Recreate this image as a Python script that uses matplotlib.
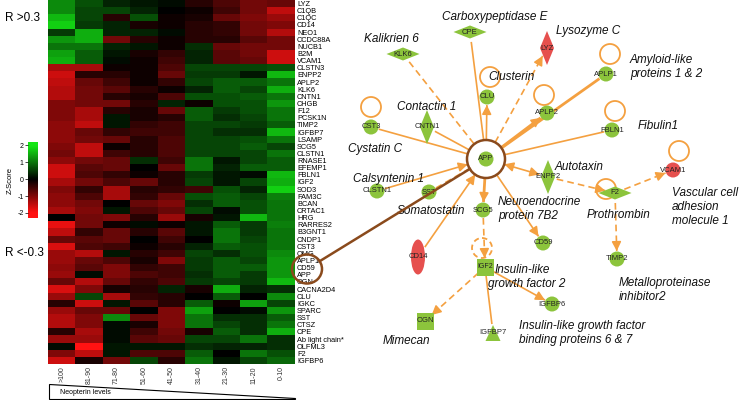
import matplotlib
matplotlib.use('Agg')
import numpy as np
import matplotlib.pyplot as plt
from matplotlib.colors import LinearSegmentedColormap
from matplotlib.patches import Circle, Ellipse, Polygon, Rectangle

plt.rcParams['font.family'] = ['Liberation Sans', 'DejaVu Sans']

# ---- heatmap data ----
genes = ['LYZ', 'C1QB', 'C1QC', 'CD14', 'NEO1', 'CCDC88A', 'NUCB1', 'B2M', 'VCAM1',
         'CLSTN3', 'ENPP2', 'APLP2', 'KLK6', 'CNTN1', 'CHGB', 'F12', 'PCSK1N', 'TIMP2',
         'IGFBP7', 'LSAMP', 'SCG5', 'CLSTN1', 'RNASE1', 'EFEMP1', 'FBLN1', 'IGF2', 'SOD3',
         'FAM3C', 'BCAN', 'CRTAC1', 'HRG', 'RARRES2', 'B3GNT1', 'CNDP1', 'CST3', 'OMG',
         'APLP1', 'CD59', 'APP', 'OGN', 'CACNA2D4', 'CLU', 'IGKC', 'SPARC', 'SST', 'CTSZ',
         'CPE', 'Ab light chain*', 'OLFML3', 'F2', 'IGFBP6']

groups = ['>100', '81-90', '71-80', '51-60', '41-50', '31-40', '21-30', '11-20', '0-10']

zscores = [
    [1.2, 0.7, 0.3, 0.2, 0.1, -0.3, -0.6, -0.9, -0.8],
    [1.2, 0.6, 0.6, 0.3, 0.0, -0.1, -0.5, -0.9, -1.5],
    [1.6, 0.6, -0.3, 0.7, -0.1, -0.2, -0.8, -1.0, -1.2],
    [1.8, 0.5, 0.3, -0.2, -0.1, -0.3, -0.4, -0.9, -1.0],
    [0.5, 1.5, 0.3, 0.3, 0.1, -0.3, -0.4, -0.9, -1.4],
    [1.3, 1.5, -0.9, -0.3, -0.1, -0.3, -0.3, -0.7, -0.9],
    [1.0, 1.0, 0.3, 0.2, -0.1, 0.4, -0.8, -0.9, -0.9],
    [1.4, 0.8, 0.2, -0.2, -0.4, 0.3, -0.7, -0.9, -1.6],
    [1.5, 0.8, 0.1, -0.1, -0.5, 0.3, -0.7, -0.8, -1.6],
    [-1.3, -1.3, -0.1, -0.1, -0.6, 0.6, 0.6, 0.6, 0.7],
    [-1.6, -0.3, -0.3, -0.1, -0.8, 0.5, 0.5, 0.2, 1.6],
    [-1.5, -0.8, -0.5, -0.1, -0.4, 0.6, 0.8, 0.8, 1.0],
    [-1.4, -0.9, -0.7, -0.3, -0.1, 0.3, 0.8, 0.6, 1.5],
    [-1.4, -0.9, -0.3, -0.2, -0.6, 0.7, 0.7, 0.8, 1.0],
    [-1.0, -0.9, -0.9, -0.3, 0.3, -0.1, 0.7, 0.7, 1.3],
    [-1.0, -1.3, -0.3, -0.2, -0.8, 0.8, 0.5, 0.7, 1.0],
    [-1.0, -1.3, 0.2, -0.2, -0.3, 0.8, 0.4, 0.6, 1.0],
    [-1.1, -1.5, 0.2, -0.4, -0.5, 0.6, 0.6, 0.5, 0.8],
    [-1.1, -0.8, -0.4, -0.5, -0.5, 0.6, 0.4, 0.4, 1.6],
    [-1.1, -0.9, -0.8, -0.3, -0.6, 0.6, 0.6, 0.7, 1.0],
    [-1.0, -1.5, -0.1, -0.3, -0.6, 0.6, 0.6, 0.8, 0.6],
    [-0.9, -1.5, -0.5, -0.3, -0.6, 0.6, 0.6, 0.6, 1.0],
    [-1.1, -0.9, -0.8, 0.4, -0.5, 1.0, 0.2, 0.6, 0.8],
    [-1.6, -0.7, -0.8, 0.0, -0.8, 1.0, 0.3, 0.8, 0.8],
    [-1.6, -0.6, -0.4, -0.1, -0.3, 0.5, 0.2, 0.1, 1.6],
    [-1.3, -0.9, -0.6, -0.8, -0.3, 0.6, 0.2, 0.6, 1.5],
    [-1.0, -0.4, -1.3, -0.3, -0.4, -0.5, 0.7, 0.3, 1.8],
    [-1.1, -0.6, -1.3, -0.4, -0.8, 0.7, 0.8, 0.6, 1.1],
    [-1.1, -0.9, 0.0, -0.8, -1.0, 0.4, 0.8, 0.7, 1.0],
    [-1.3, -1.0, 0.2, -0.6, -0.8, 0.6, 0.1, 0.7, 1.0],
    [0.0, -0.9, -1.0, -0.3, -1.2, -0.2, 0.2, 1.6, 1.0],
    [-1.8, -0.9, -0.1, 0.1, -0.1, 0.2, 0.8, 0.5, 1.1],
    [-1.5, -0.4, -0.8, -0.3, -0.7, 0.2, 1.0, 0.5, 1.0],
    [-0.8, -0.7, -0.8, 0.0, -0.5, 0.0, 1.0, 0.6, 1.0],
    [-1.7, -0.6, -0.5, -0.1, -0.3, 0.3, 0.8, 0.7, 1.0],
    [-1.2, -1.4, 0.2, -0.3, -0.5, 0.6, 0.4, 0.7, 1.2],
    [-1.2, -0.8, -0.6, -0.2, -1.0, 0.5, 0.8, 0.6, 1.3],
    [-1.1, -0.7, -1.0, -0.4, -0.5, 0.5, 0.8, 0.8, 1.3],
    [-1.2, 0.1, -1.0, -0.6, -0.5, 0.4, 0.8, 0.5, 1.3],
    [-0.8, -1.4, -0.8, -0.4, -0.6, 0.5, 0.6, 0.5, 1.6],
    [-1.7, -1.0, -0.2, -0.3, 0.3, -0.2, 1.5, 0.3, 0.4],
    [-1.2, 0.6, -1.3, -0.4, -0.3, 0.0, 0.8, 0.0, 1.2],
    [-0.3, -1.6, 0.2, -0.7, -0.3, 0.8, -0.1, 1.4, 0.6],
    [-1.2, -0.8, -0.8, 0.0, -1.0, 1.4, 0.0, 0.1, 1.3],
    [-1.4, -1.0, 1.2, -0.8, -1.0, 1.0, 0.4, 0.4, 0.8],
    [-1.4, -1.0, 0.1, -0.2, -1.0, 1.0, 0.6, 0.4, 1.0],
    [-0.3, -1.3, 0.1, -0.5, -0.9, -0.2, 0.8, 0.4, 1.5],
    [-1.2, -1.2, 0.1, -0.7, -0.8, 0.6, 0.6, 1.0, 0.4],
    [0.1, -2.0, 0.2, 0.2, 0.2, 0.4, 0.3, 0.3, 0.4],
    [-1.0, -1.5, 0.2, -0.6, -0.6, 0.8, 0.0, 1.0, 0.7],
    [-1.6, -0.2, -0.9, 0.6, -0.3, 1.0, 0.2, 0.6, 0.9],
]

# ---- network data ----
node_names = ['APP', 'CPE', 'KLK6', 'LYZ', 'CLU', 'APLP1', 'APLP2', 'FBLN1', 'CNTN1',
              'CST3', 'ENPP2', 'F2', 'VCAM1', 'CLSTN1', 'SST', 'SCG5', 'CD59', 'CD14',
              'IGF2', 'IGFBP6', 'OGN', 'IGFBP7', 'TIMP2']
node_shape = ['circle', 'hdiamond', 'hdiamond', 'vdiamond', 'circle', 'circle', 'circle',
              'circle', 'vdiamond', 'circle', 'vdiamond', 'hdiamond', 'circle', 'circle',
              'circle', 'circle', 'circle', 'ellipse', 'square', 'circle', 'square',
              'triangle', 'circle']
red_nodes = ['LYZ', 'VCAM1', 'CD14']
self_loops = ['CLU', 'APLP1', 'APLP2', 'FBLN1', 'VCAM1', 'CST3', 'F2']
dashed_loops = ['IGF2']

# (source, target, dashed, arrow at target, arrow at source)
edges = [
    ('CPE', 'APP', False, False, False),
    ('KLK6', 'APP', True, False, False),
    ('APP', 'LYZ', True, True, False),
    ('APP', 'CLU', False, True, False),
    ('APP', 'APLP2', False, True, False),
    ('APP', 'APLP1', False, False, False),
    ('FBLN1', 'APP', False, False, False),
    ('CNTN1', 'APP', False, False, False),
    ('CST3', 'APP', False, False, False),
    ('APP', 'ENPP2', False, True, True),
    ('ENPP2', 'F2', True, True, False),
    ('F2', 'VCAM1', True, True, False),
    ('F2', 'TIMP2', True, True, False),
    ('CLSTN1', 'APP', False, True, False),
    ('SST', 'APP', True, False, False),
    ('APP', 'SCG5', False, True, False),
    ('APP', 'CD59', False, True, False),
    ('CD14', 'APP', False, True, False),
    ('SCG5', 'IGF2', True, True, False),
    ('IGF2', 'IGFBP6', False, True, False),
    ('IGF2', 'OGN', True, True, False),
    ('IGF2', 'IGFBP7', False, False, False),
]

names_text = [
    ('Carboxypeptidase E', 442, 17), ('Lysozyme C', 556, 31), ('Kalikrien 6', 364, 39),
    ('Clusterin', 488, 77), ('Amyloid-like', 630, 60), ('proteins 1 & 2', 630, 74),
    ('Contactin 1', 397, 107), ('Fibulin1', 638, 126), ('Cystatin C', 348, 149),
    ('Autotaxin', 555, 167), ('Calsyntenin 1', 353, 179), ('Vascular cell', 672, 193),
    ('adhesion', 672, 207), ('molecule 1', 672, 221), ('Neuroendocrine', 498, 202),
    ('protein 7B2', 498, 216), ('Somatostatin', 397, 211), ('Prothrombin', 587, 215),
    ('Insulin-like', 495, 270), ('growth factor 2', 488, 284),
    ('Metalloproteinase', 619, 283), ('inhibitor2', 619, 297),
    ('Insulin-like growth factor', 519, 326), ('binding proteins 6 & 7', 519, 340),
    ('Mimecan', 383, 341),
]

# layout in pixels (x right, y down)
layout = {'APP': (486, 159), 'CPE': (470, 32), 'KLK6': (403, 54), 'LYZ': (547, 48),
          'CLU': (487, 97), 'APLP1': (606, 74), 'APLP2': (547, 113), 'FBLN1': (612, 130),
          'CNTN1': (427, 127), 'CST3': (371, 127), 'ENPP2': (548, 177), 'F2': (615, 193),
          'VCAM1': (673, 170), 'CLSTN1': (377, 191), 'SST': (429, 192), 'SCG5': (483, 210),
          'CD59': (543, 243), 'CD14': (418, 257), 'IGF2': (485, 267), 'IGFBP6': (552, 304),
          'OGN': (425, 321), 'IGFBP7': (493, 333), 'TIMP2': (617, 259)}
loop_centre = {'CLU': (490, 77), 'APLP1': (610, 54), 'APLP2': (544, 95), 'FBLN1': (615, 111),
               'VCAM1': (679, 151), 'CST3': (371, 107), 'F2': (606, 189), 'IGF2': (482, 248)}

W, H = 739, 400
ORANGE = '#f4a040'
GREEN = '#8cc43c'
RED = '#e6504e'
BROWN = '#8a4a1c'

fig = plt.figure(figsize=(W / 100, H / 100), dpi=100)

# heatmap
cmap = LinearSegmentedColormap.from_list('rg', ['#ff1212', '#000000', '#14e614'])
ax = fig.add_axes([48 / W, 1 - 364 / H, 247 / W, 364 / H])
ax.imshow(np.array(zscores), cmap=cmap, vmin=-2, vmax=2, aspect='auto', interpolation='nearest')
ax.set_yticks(range(len(genes)))
ax.set_yticklabels(genes, fontsize=5.3)
ax.yaxis.tick_right()
ax.set_xticks(range(len(groups)))
ax.set_xticklabels(groups, rotation=90, fontsize=5, color='#333333')
ax.tick_params(length=0, pad=1.5)
for s in ax.spines.values():
    s.set_visible(False)

# colour scale
cax = fig.add_axes([28 / W, 1 - 218 / H, 10 / W, 76 / H])
grad = np.linspace(2.2, -2.3, 100).reshape(-1, 1)
cax.imshow(grad, cmap=cmap, vmin=-2, vmax=2, aspect='auto', extent=[0, 1, -2.3, 2.2])
cax.set_xticks([])
cax.set_yticks([2, 1, 0, -1, -2])
cax.set_yticklabels(['2', '1', '0', '-1', '-2'], fontsize=5)
cax.tick_params(axis='y', length=2, width=0.5, pad=1)
for s in cax.spines.values():
    s.set_visible(False)

# overlay for network and annotations
net = fig.add_axes([0, 0, 1, 1])
net.set_xlim(0, W)
net.set_ylim(H, 0)
net.axis('off')
net.patch.set_alpha(0)

net.text(5, 18, 'R >0.3', fontsize=8.5, va='center')
net.text(5, 253, 'R <-0.3', fontsize=8.5, va='center')
net.text(10, 180, 'Z-Score', fontsize=5.5, rotation=90, va='center', ha='center')

# neopterin wedge
net.add_patch(Polygon([(49, 384), (49, 399), (295, 399), (295, 397.5)], closed=True,
                      fc='white', ec='black', lw=0.8))
net.text(60, 393, 'Neopterin levels', fontsize=5, va='center')

radius = {'APP': 19}


def node_r(n):
    if n in radius:
        return radius[n]
    shape = node_shape[node_names.index(n)]
    return {'circle': 8, 'hdiamond': 10, 'vdiamond': 9, 'ellipse': 12,
            'square': 9, 'triangle': 9}[shape]


def head(p_from, p_to):
    net.annotate('', xy=p_to, xytext=p_from,
                 arrowprops=dict(arrowstyle='-|>,head_length=0.55,head_width=0.28',
                                 color=ORANGE, lw=1.1, shrinkA=0, shrinkB=0), zorder=2)


for src, dst, dashed, arr_t, arr_s in edges:
    p0 = np.array(layout[src], float)
    p1 = np.array(layout[dst], float)
    u = (p1 - p0) / np.linalg.norm(p1 - p0)
    a = p0 + u * node_r(src)
    b = p1 - u * node_r(dst)
    lw = 2.0 if (src, dst) in [('APP', 'APLP2'), ('APP', 'APLP1'), ('APP', 'SCG5')] else 1.2
    net.plot([a[0], b[0]], [a[1], b[1]], color=ORANGE, lw=lw,
             ls=(0, (4, 2.5)) if dashed else '-', zorder=1, solid_capstyle='butt')
    if arr_t:
        head(b - u * 7, b)
    if arr_s:
        head(a + u * 7, a)

for n, c in loop_centre.items():
    net.add_patch(Circle(c, 10, fill=False, ec=ORANGE, lw=1.3,
                         ls=(0, (3, 2)) if n in dashed_loops else '-', zorder=1.5))

for n, shape in zip(node_names, node_shape):
    x, y = layout[n]
    col = RED if n in red_nodes else GREEN
    if shape == 'circle':
        p = Circle((x, y), 7.5)
    elif shape == 'hdiamond':
        p = Polygon([(x - 16.5, y), (x, y - 6.5), (x + 16.5, y), (x, y + 6.5)])
    elif shape == 'vdiamond':
        p = Polygon([(x - 7, y), (x, y - 17), (x + 7, y), (x, y + 17)])
    elif shape == 'ellipse':
        p = Ellipse((x, y), 14, 35)
    elif shape == 'square':
        p = Rectangle((x - 8.5, y - 8.5), 17, 17)
    else:
        p = Polygon([(x - 7.5, y + 8), (x, y - 8), (x + 7.5, y + 8)])
    p.set_facecolor(col)
    p.set_edgecolor('none')
    p.set_zorder(3)
    net.add_patch(p)
    net.text(x, y, n, fontsize=5.5 if n != 'IGF2' else 5, ha='center', va='center',
             color='#222222', zorder=4)

for t, x, y in names_text:
    net.text(x, y, t, fontsize=8.5, style='italic', va='center', color='#111111', zorder=4)

# brown highlight linking heatmap genes to APP node
hc = np.array([307, 269.0])
ac = np.array(layout['APP'], float)
net.add_patch(Ellipse(hc, 30, 29, fill=False, ec=BROWN, lw=1.8, zorder=5))
net.add_patch(Circle(ac, 19, fill=False, ec=BROWN, lw=1.8, zorder=5))
u = (ac - hc) / np.linalg.norm(ac - hc)
a = hc + u * 15
b = ac - u * 19
net.plot([a[0], b[0]], [a[1], b[1]], color=BROWN, lw=1.8, zorder=5)

fig.savefig('out.png', dpi=100)
